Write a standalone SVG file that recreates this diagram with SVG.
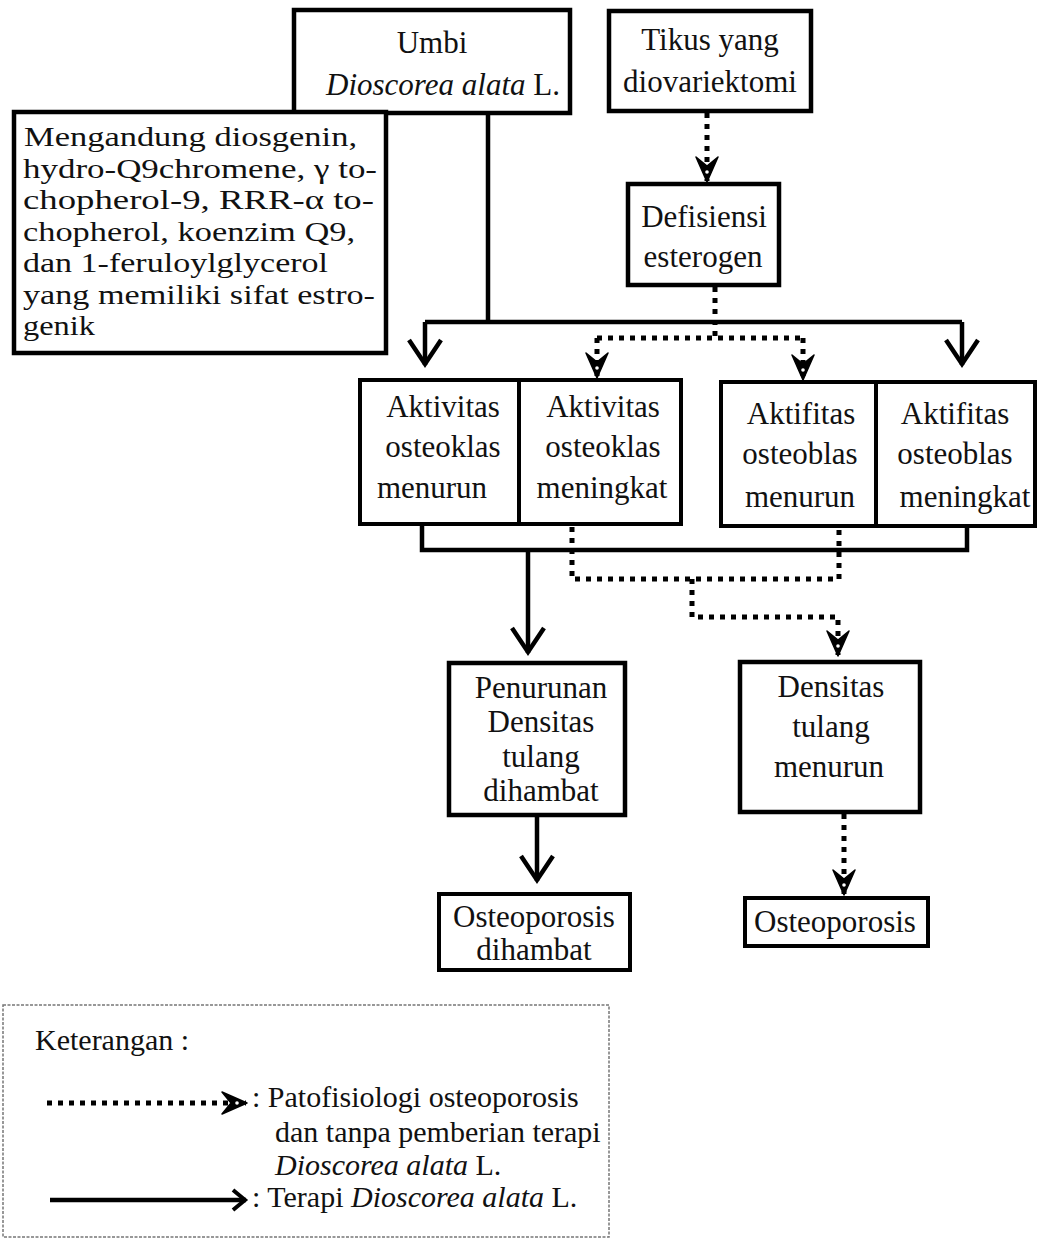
<svg xmlns="http://www.w3.org/2000/svg" width="1039" height="1241" viewBox="0 0 1039 1241">
<style>
.box{fill:#fff;stroke:#000;stroke-width:4.5}
.boxm{fill:#fff;stroke:#000;stroke-width:4}
.t{font-family:"Liberation Serif","Times New Roman",serif;font-size:31px;fill:#111}
.c{text-anchor:middle}
.m{font-size:28px}
.l{font-size:30px}
.solid{fill:none;stroke:#000;stroke-width:4.5}
.dot{fill:none;stroke:#000;stroke-width:5;stroke-dasharray:5 6}
.leg{fill:none;stroke:#777;stroke-width:1.5;stroke-dasharray:3 1.5}
</style>
<defs>
<marker id="open" markerUnits="userSpaceOnUse" viewBox="-30 -20 36 40" markerWidth="36" markerHeight="40" refX="0" refY="0" orient="auto" overflow="visible">
<path d="M-25,-16 L-1,0 L-25,16" fill="none" stroke="#000" stroke-width="4.5"/>
</marker>
<marker id="openS" markerUnits="userSpaceOnUse" viewBox="-20 -14 24 28" markerWidth="24" markerHeight="28" refX="0" refY="0" orient="auto" overflow="visible">
<path d="M-13,-10 L-1,0 L-13,10" fill="none" stroke="#000" stroke-width="4"/>
</marker>
<marker id="fill" markerUnits="userSpaceOnUse" viewBox="-28 -14 30 28" markerWidth="30" markerHeight="28" refX="0" refY="0" orient="auto" overflow="visible">
<path d="M1,0 L-24,-11 L-15,0 L-24,11 Z" fill="#000" stroke="#000" stroke-width="1.5" stroke-linejoin="round"/>
<circle cx="-9" cy="0" r="1.8" fill="#fff"/>
</marker>
</defs>
<rect width="1039" height="1241" fill="#fff"/>

<g id="connectors">
<path class="solid" d="M488,113 V322"/>
<path class="solid" d="M425,322 H962"/>
<path class="solid" d="M425,322 V365" marker-end="url(#open)"/>
<path class="solid" d="M962,322 V365" marker-end="url(#open)"/>
<path class="solid" d="M422,524 V550 H967 V526"/>
<path class="solid" d="M528,550 V653" marker-end="url(#open)"/>
<path class="solid" d="M537,815 V881" marker-end="url(#open)"/>
<path class="dot" d="M707,113 V181" marker-end="url(#fill)"/>
<path class="dot" d="M715,287 V338"/>
<path class="dot" d="M597,338 H803"/>
<path class="dot" d="M597,338 V377" marker-end="url(#fill)"/>
<path class="dot" d="M803,338 V379" marker-end="url(#fill)"/>
<path class="dot" d="M572,527 V579 H839 V529"/>
<path class="dot" d="M692,579 V617 H838 V655" marker-end="url(#fill)"/>
<path class="dot" d="M844,814 V894" marker-end="url(#fill)"/>
</g>

<g id="umbi">
<rect class="box" x="294" y="10" width="276" height="103"/>
<text class="t c"><tspan x="432" y="53">Umbi</tspan><tspan x="443" y="95"><tspan font-style="italic">Dioscorea alata</tspan> L.</tspan></text>
</g>

<g id="kandungan">
<rect class="box" x="14" y="112" width="372" height="241"/>
<text class="t m" x="24" y="146" textLength="333" lengthAdjust="spacingAndGlyphs">Mengandung diosgenin,</text>
<text class="t m" x="23" y="177.5" textLength="354" lengthAdjust="spacingAndGlyphs">hydro-Q9chromene, γ to-</text>
<text class="t m" x="23" y="209" textLength="351" lengthAdjust="spacingAndGlyphs">chopherol-9, RRR-α to-</text>
<text class="t m" x="23" y="240.5" textLength="332" lengthAdjust="spacingAndGlyphs">chopherol, koenzim Q9,</text>
<text class="t m" x="23" y="272" textLength="305" lengthAdjust="spacingAndGlyphs">dan 1-feruloylglycerol</text>
<text class="t m" x="23" y="303.5" textLength="352" lengthAdjust="spacingAndGlyphs">yang memiliki sifat estro-</text>
<text class="t m" x="23" y="335" textLength="72" lengthAdjust="spacingAndGlyphs">genik</text>
</g>

<g id="tikus">
<rect class="box" x="609" y="11" width="202" height="100"/>
<text class="t c"><tspan x="710" y="50">Tikus yang</tspan><tspan x="710" y="92">diovariektomi</tspan></text>
</g>

<g id="defisiensi">
<rect class="box" x="628" y="184" width="151" height="101"/>
<text class="t c"><tspan x="704" y="227">Defisiensi</tspan><tspan x="703" y="267">esterogen</tspan></text>
</g>

<g id="osteoklas-menurun">
<rect class="boxm" x="360" y="380" width="159" height="144"/>
<text class="t c"><tspan x="443" y="417">Aktivitas</tspan><tspan x="443" y="457">osteoklas</tspan><tspan x="432" y="498">menurun</tspan></text>
</g>

<g id="osteoklas-meningkat">
<rect class="boxm" x="519" y="380" width="162" height="144"/>
<text class="t c"><tspan x="603" y="417">Aktivitas</tspan><tspan x="603" y="457">osteoklas</tspan><tspan x="602" y="498">meningkat</tspan></text>
</g>

<g id="osteoblas-menurun">
<rect class="boxm" x="721" y="382" width="155" height="144"/>
<text class="t c"><tspan x="801" y="424">Aktifitas</tspan><tspan x="800" y="464">osteoblas</tspan><tspan x="800" y="507">menurun</tspan></text>
</g>

<g id="osteoblas-meningkat">
<rect class="boxm" x="876" y="382" width="159" height="144"/>
<text class="t c"><tspan x="955" y="424">Aktifitas</tspan><tspan x="955" y="464">osteoblas</tspan><tspan x="965" y="507">meningkat</tspan></text>
</g>

<g id="penurunan">
<rect class="box" x="449" y="663" width="176" height="152"/>
<text class="t c"><tspan x="541" y="698">Penurunan</tspan><tspan x="541" y="732">Densitas</tspan><tspan x="541" y="767">tulang</tspan><tspan x="541" y="801">dihambat</tspan></text>
</g>

<g id="densitas">
<rect class="box" x="740" y="662" width="180" height="150"/>
<text class="t c"><tspan x="831" y="697">Densitas</tspan><tspan x="831" y="737">tulang</tspan><tspan x="829" y="777">menurun</tspan></text>
</g>

<g id="osteoporosis-dihambat">
<rect class="boxm" x="439" y="894" width="191" height="76"/>
<text class="t c"><tspan x="534" y="927">Osteoporosis</tspan><tspan x="534" y="960">dihambat</tspan></text>
</g>

<g id="osteoporosis">
<rect class="boxm" x="745" y="898" width="183" height="48"/>
<text class="t c" x="835" y="932">Osteoporosis</text>
</g>

<g id="keterangan">
<rect class="leg" x="3" y="1005" width="606" height="232"/>
<text class="t l" x="35" y="1050">Keterangan :</text>
<path class="dot" d="M47,1103 H246" marker-end="url(#fill)"/>
<path class="solid" d="M50,1200 H246" marker-end="url(#openS)"/>
<text class="t l"><tspan x="252" y="1107">: Patofisiologi osteoporosis</tspan><tspan x="275" y="1142">dan tanpa pemberian terapi</tspan><tspan x="275" y="1175"><tspan font-style="italic">Dioscorea alata</tspan> L.</tspan><tspan x="252" y="1207">: Terapi <tspan font-style="italic">Dioscorea alata</tspan> L.</tspan></text>
</g>
</svg>
